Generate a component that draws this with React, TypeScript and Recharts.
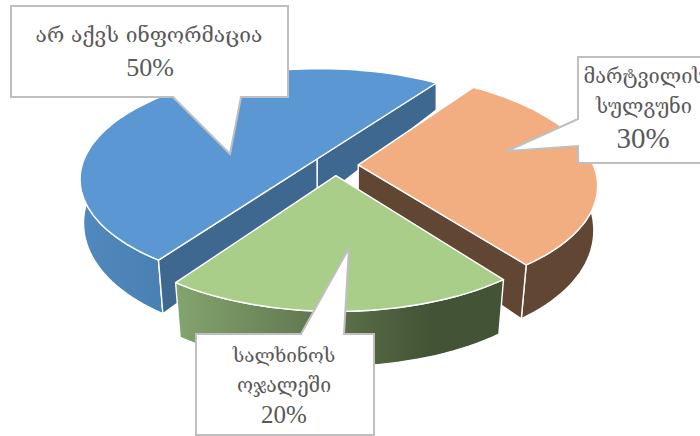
import React from 'react';
import { PieChart, Pie } from 'recharts';

const categories = ['არ აქვს ინფორმაცია', 'მარტვილის სულგუნი', 'სალხინოს ოჯალეში'];
const shares = [50, 30, 20];
const topColors = ['#5b98d3', '#f2ae80', '#a9ce8a'];
const edgeColors = ['#3e6890', '#614634', '#4a5c3c'];
const rimStops: [string, string, number, number][] = [
  ['#5089bd', '#3e70a4', 80, 320],
  ['#614634', '#614634', 350, 600],
  ['#84a46f', '#435335', 176, 430],
];

const rows = categories.map((name, i) => ({ name, value: shares[i], fill: topColors[i] }));

const WIDTH = 700;
const HEIGHT = 436;
const TILT = 108 / 235; // vertical squash of the disc
const PERSPECTIVE = 0.174;
const EXPLODE = 0.097;
const GEORGIAN = '"DejaVu Serif", "Liberation Serif", serif';
const DIGITS = '"Liberation Serif", serif';
const TEXT = '#595959';

// wall height grows towards the viewer
const wallDepth = (y: number) => 55 - 28 * Math.pow((310 - Math.min(y, 310)) / 227, 2);

function PieSlice(props: any) {
  const { cx, cy, outerRadius: R, startAngle, endAngle, index, fill } = props;
  const from = -startAngle;
  const to = -endAngle;
  const rad = Math.PI / 180;
  const mid = ((from + to) / 2) * rad;
  const ox = EXPLODE * Math.cos(mid);
  const oy = EXPLODE * Math.sin(mid);

  // disc coordinates to the tilted, foreshortened plane
  const project = (u: number, v: number): [number, number] => {
    const X = u + ox;
    const Y = v + oy;
    const w = 1 - PERSPECTIVE * Y;
    return [cx + (R * X) / w, cy + (R * TILT * Y) / w];
  };
  const lower = ([x, y]: [number, number]): [number, number] => {
    const shrink = 1 - (0.025 * (y - 83)) / 180;
    return [cx + (x - cx) * shrink, y + wallDepth(y)];
  };
  const toPath = (pts: [number, number][]) =>
    pts.map(([x, y], i) => `${i ? 'L' : 'M'}${x.toFixed(1)} ${y.toFixed(1)}`).join(' ') + ' Z';

  const arc: [number, number][] = [];
  const steps = Math.ceil((to - from) / 2);
  for (let i = 0; i <= steps; i++) {
    const t = (from + ((to - from) * i) / steps) * rad;
    arc.push(project(Math.cos(t), Math.sin(t)));
  }
  const apex = project(0, 0);
  const last = arc[arc.length - 1];
  const rim = [...arc, ...arc.map(lower).reverse()];
  const startWall = toPath([apex, arc[0], lower(arc[0]), lower(apex)]);
  const endWall = toPath([apex, last, lower(last), lower(apex)]);
  // cut faces turned towards the viewer go in front of the rim
  const startFront = -Math.cos(from * rad) > 0;
  const endFront = Math.cos(to * rad) > 0;
  const [c1, c2, x1, x2] = rimStops[index];
  const gid = `rim${index}`;
  const wall = edgeColors[index];

  return (
    <g stroke="#ffffff" strokeWidth={1.4} strokeLinejoin="round">
      <defs>
        <linearGradient id={gid} gradientUnits="userSpaceOnUse" x1={x1} y1={0} x2={x2} y2={0}>
          <stop offset="0%" stopColor={c1} />
          <stop offset="100%" stopColor={c2} />
        </linearGradient>
      </defs>
      {!startFront && <path d={startWall} fill={wall} stroke="none" />}
      {!endFront && <path d={endWall} fill={wall} stroke="none" />}
      <path d={toPath(rim)} fill={`url(#${gid})`} />
      {endFront && <path d={endWall} fill={wall} />}
      {startFront && <path d={startWall} fill={wall} />}
      <path d={toPath([apex, ...arc])} fill={fill} />
    </g>
  );
}

interface CalloutProps {
  outline: string;
  lines: { text: string; x: number; y: number; size: number; digits?: boolean }[];
}

function Callout({ outline, lines }: CalloutProps) {
  return (
    <g>
      <path d={outline} fill="#ffffff" stroke="#bfbfbf" strokeWidth={2} />
      {lines.map((l) => (
        <text
          key={l.text}
          x={l.x}
          y={l.y}
          textAnchor="middle"
          fontFamily={l.digits ? DIGITS : GEORGIAN}
          fontSize={l.size}
          fill={TEXT}
        >
          {l.text}
        </text>
      ))}
    </g>
  );
}

export default function App() {
  return (
    <div style={{ position: 'absolute', left: 0, top: 0, width: WIDTH, height: HEIGHT, overflow: 'hidden', background: '#ffffff' }}>
      <PieChart width={WIDTH} height={HEIGHT} margin={{ top: 0, right: 0, bottom: 0, left: 0 }}>
        <Pie
          data={rows}
          dataKey="value"
          nameKey="name"
          cx={335.5}
          cy={165}
          outerRadius={235}
          startAngle={-125}
          endAngle={-485}
          stroke="none"
          shape={PieSlice}
          isAnimationActive={false}
          rootTabIndex={-1}
        />
      </PieChart>
      <svg width={WIDTH} height={HEIGHT} style={{ position: 'absolute', left: 0, top: 0 }}>
        <Callout
          outline="M11 6 H288 V97 H241 L230 154 L173 97 H11 Z"
          lines={[
            { text: 'არ აქვს ინფორმაცია', x: 149, y: 42, size: 21 },
            { text: '50%', x: 150, y: 76, size: 26, digits: true },
          ]}
        />
        <Callout
          outline="M578 57 H720 V163 H578 V146 L507 151 L578 119 Z"
          lines={[
            { text: 'მარტვილის', x: 644, y: 83, size: 20 },
            { text: 'სულგუნი', x: 644, y: 113, size: 20 },
            { text: '30%', x: 643, y: 148, size: 29, digits: true },
          ]}
        />
        <Callout
          outline="M196 334 H301 L349 248 L344 334 H374 V435 H196 Z"
          lines={[
            { text: 'სალხინოს', x: 284, y: 362, size: 19 },
            { text: 'ოჯალეში', x: 284, y: 392, size: 19.5 },
            { text: '20%', x: 284, y: 423, size: 25, digits: true },
          ]}
        />
      </svg>
    </div>
  );
}
